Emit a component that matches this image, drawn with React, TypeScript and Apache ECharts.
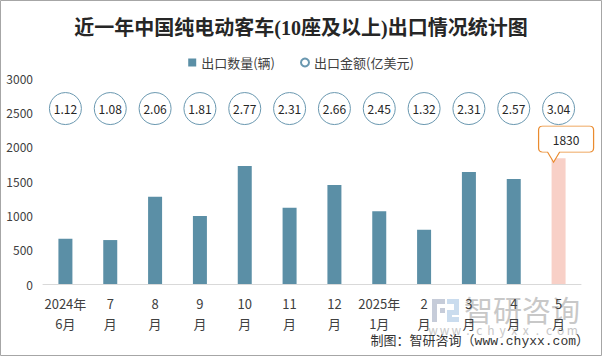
import React, { useEffect, useRef } from "react";
import * as echarts from "echarts";

const categories = [
  "2024年\n6月", "7\n月", "8\n月", "9\n月", "10\n月", "11\n月",
  "12\n月", "2025年\n1月", "2\n月", "3\n月", "4\n月", "5\n月",
];
const exportVolume = [660, 640, 1270, 990, 1720, 1110, 1440, 1060, 790, 1630, 1530, 1830];
const exportValue = [1.12, 1.08, 2.06, 1.81, 2.77, 2.31, 2.66, 2.45, 1.32, 2.31, 2.57, 3.04];
const seriesNames = ["出口数量(辆)", "出口金额(亿美元)"];
const yMax = 3000;
const yInterval = 500;
const valueRowLevel = 2555;

const BAR = "#5b8fa6";
const BAR_HL = "#f8d0c7";
const FONT = "'Noto Sans CJK SC', sans-serif";

export default function App() {
  const ref = useRef<HTMLDivElement>(null);
  useEffect(() => {
    if (!ref.current) return;
    const chart = echarts.init(ref.current, null, { renderer: "svg" });
    const last = exportVolume.length - 1;
    const wm = "www.chyxx.com".split("");
    chart.setOption({
      animation: false,
      backgroundColor: "#fff",
      textStyle: { fontFamily: FONT },
      title: {
        text: "近一年中国纯电动客车(10座及以上)出口情况统计图",
        left: "center",
        top: 13,
        textStyle: {
          fontFamily: "'Liberation Serif', 'Noto Sans CJK SC', serif",
          fontSize: 20,
          fontWeight: "bold",
          color: "#262626",
        },
      },
      legend: {
        top: 51,
        left: "center",
        itemWidth: 8,
        itemHeight: 8,
        itemGap: 25,
        textStyle: { fontSize: 13, color: "#404040", fontFamily: FONT },
        data: [
          { name: seriesNames[0], icon: "rect" },
          { name: seriesNames[1], icon: "circle" },
        ],
      },
      grid: { left: 43, right: 21, top: 78, bottom: 72, outerBoundsMode: "none" },
      xAxis: {
        type: "category",
        data: categories,
        axisLine: { lineStyle: { color: "#d9d9d9", width: 1 } },
        axisTick: { show: false },
        axisLabel: {
          interval: 0,
          fontSize: 13,
          lineHeight: 20,
          margin: 9,
          color: "#404040",
        },
      },
      yAxis: {
        type: "value",
        min: 0,
        max: yMax,
        interval: yInterval,
        axisLine: { show: false },
        axisTick: { show: false },
        splitLine: { show: false },
        axisLabel: {
          fontSize: 12,
          color: "#404040",
          margin: 10,
          formatter: (v: number) => String(v),
        },
      },
      series: [
        {
          name: seriesNames[0],
          type: "bar",
          barWidth: 14,
          data: exportVolume.map((v, i) => ({
            value: v,
            itemStyle: { color: i === last ? BAR_HL : BAR },
          })),
          itemStyle: { color: BAR },
          markPoint: {
            symbol:
              "path://M4,0 H51 Q55,0 55,4 V22 Q55,26 51,26 H21 L15,36 L9,26 H4 Q0,26 0,22 V4 Q0,0 4,0 Z",
            symbolSize: [55, 36],
            symbolOffset: [7.5, -14.3],
            itemStyle: { color: "#fff", borderColor: "#ea8b2f", borderWidth: 1 },
            label: {
              show: true,
              formatter: "{c}",
              offset: [0, -5],
              color: "#262626",
              fontSize: 12,
            },
            data: [{ coord: [categories[last], exportVolume[last]], value: exportVolume[last] }],
          },
        },
        {
          name: seriesNames[1],
          type: "scatter",
          symbol: "circle",
          symbolSize: 32,
          z: 3,
          itemStyle: { color: "#fff", borderColor: "#6a98b0", borderWidth: 1, opacity: 1 },
          label: {
            show: true,
            position: "inside",
            color: "#262626",
            fontSize: 12,
            formatter: (p: any) => exportValue[p.dataIndex].toFixed(2),
          },
          data: categories.map((c) => [c, valueRowLevel]),
        },
      ],
      graphic: [
        {
          type: "group",
          z: 0,
          silent: true,
          children: [
            { type: "rect", shape: { x: 432, y: 299, width: 13, height: 5 }, style: { fill: "#c6ccd9" } },
            { type: "rect", shape: { x: 432, y: 304, width: 5, height: 18 }, style: { fill: "#c6ccd9" } },
            { type: "rect", shape: { x: 440, y: 308, width: 5, height: 5 }, style: { fill: "#c6ccd9" } },
            { type: "rect", shape: { x: 447, y: 299, width: 12, height: 5 }, style: { fill: "#cadcee" } },
            { type: "rect", shape: { x: 454, y: 304, width: 5, height: 8 }, style: { fill: "#cadcee" } },
            { type: "rect", shape: { x: 447, y: 310, width: 12, height: 5 }, style: { fill: "#cadcee" } },
            { type: "rect", shape: { x: 447, y: 315, width: 5, height: 7 }, style: { fill: "#cadcee" } },
            { type: "rect", shape: { x: 447, y: 317, width: 12, height: 5 }, style: { fill: "#cadcee" } },
            {
              type: "text",
              x: 464,
              y: 294,
              style: {
                text: "智研咨询",
                fontSize: 29,
                fontFamily: FONT,
                fill: "#c8c8c8",
              },
            },
            ...wm.map((ch, i) => ({
              type: "text",
              x: 433 + i * 11.6,
              y: 329,
              style: {
                text: ch,
                fontSize: 12,
                fontFamily: FONT,
                fill: "#c8c8c8",
                align: "center",
                verticalAlign: "middle",
              },
            })),
          ],
        },
        {
          type: "text",
          right: 13,
          top: 335,
          z: 10,
          style: {
            text: "制图：智研咨询（www.chyxx.com）",
            fontSize: 13,
            fontFamily: "'Liberation Mono', 'Noto Sans CJK SC', monospace",
            fill: "#333",
          },
        },
        {
          type: "rect",
          z: 10,
          silent: true,
          shape: { x: 0.5, y: 0.5, width: 601, height: 355 },
          style: { fill: "none", stroke: "#a6a6a6", lineWidth: 1 },
        },
      ],
    });
    return () => chart.dispose();
  }, []);
  return (
    <div
      ref={ref}
      style={{ position: "fixed", left: 0, top: 0, width: 602, height: 356 }}
    />
  );
}
